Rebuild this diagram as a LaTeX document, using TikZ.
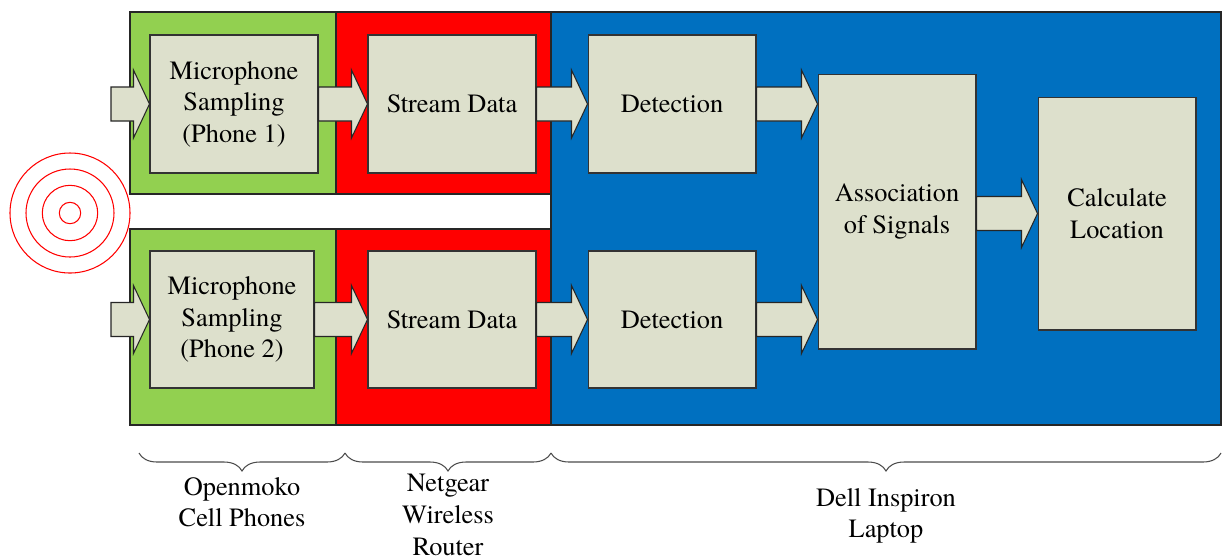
\documentclass[tikz,border=0pt]{standalone}
\usepackage{fontspec}
\setmainfont{TeX Gyre Termes}
\usetikzlibrary{calc}
\usetikzlibrary{decorations.pathreplacing}
\definecolor{phoneGreen}{HTML}{92D050}
\definecolor{routerRed}{HTML}{FF0000}
\definecolor{laptopBlue}{HTML}{0070C0}
\definecolor{boxFill}{HTML}{DDE0CC}
\newcommand{\blockArrow}[2]{%%
  %% The tip lies on the target, level with the start.
  \coordinate (arrowTip) at (#1 -| #2);
  \draw[arrowStyle] ($(#1)+(0,-17)$) -- ($(arrowTip)+(-16,-17)$) -- ($(arrowTip)+(-16,-34)$)
    -- (arrowTip) -- ($(arrowTip)+(-16,34)$) -- ($(arrowTip)+(-16,17)$) -- ($(#1)+(0,17)$) -- cycle;
}
\newcommand{\sectionBrace}[5]{%%
  %% A brace under one section and its label.
  \draw[braceStyle] (#2,453) -- (#3,453);
  \node[labelStyle] (#1) at ({(#2+#3)/2},#4) {#5};
}

\begin{document}
\begin{tikzpicture}[%%
  x=0.02cm,y=-0.02cm,%%
  regionStyle/.style={draw=black!85,line width=0.9pt},%%
  boxStyle/.style={draw=black!80,fill=boxFill,line width=0.6pt,align=center,inner sep=0pt,font=\fontsize{15}{18}\selectfont},%%
  arrowStyle/.style={draw=black!85,fill=boxFill,line width=0.6pt},%%
  waveStyle/.style={draw=red,line width=0.6pt},%%
  braceStyle/.style={draw=black!70,line width=0.6pt,decorate,decoration={brace,mirror,amplitude=0.36cm}},%%
  labelStyle/.style={align=center,inner sep=0pt,anchor=north,font=\fontsize{15}{18}\selectfont}%%
]
\useasboundingbox (0,0) rectangle (1222,559);
%%
%% The three devices.
\draw[regionStyle,fill=laptopBlue] (551,12) rectangle (1221,425);
\draw[regionStyle,fill=routerRed] (336,12) rectangle (551,194);
\draw[regionStyle,fill=routerRed] (336,229) rectangle (551,425);
\draw[regionStyle,fill=phoneGreen] (130,12) rectangle (336,194);
\draw[regionStyle,fill=phoneGreen] (130,229) rectangle (336,425);
%%
%% The sound source.
\coordinate (source) at (70,213);
\foreach \r in {10.7,27.7,44,60}
  \draw[waveStyle] (source) circle[radius=\r];
%%
%% The processing steps.
\node[boxStyle,minimum width=3.36cm,minimum height=2.76cm] (micOne) at (234,104) {Microphone\\Sampling\\(Phone 1)};
\node[boxStyle,minimum width=3.28cm,minimum height=2.74cm] (micTwo) at (232,319.5) {Microphone\\Sampling\\(Phone 2)};
\node[boxStyle,minimum width=3.36cm,minimum height=2.76cm] (streamOne) at (452,104) {Stream Data};
\node[boxStyle,minimum width=3.36cm,minimum height=2.74cm] (streamTwo) at (452,319.5) {Stream Data};
\node[boxStyle,minimum width=3.36cm,minimum height=2.76cm] (detOne) at (672,104) {Detection};
\node[boxStyle,minimum width=3.36cm,minimum height=2.74cm] (detTwo) at (672,319.5) {Detection};
\node[boxStyle,minimum width=3.16cm,minimum height=5.5cm] (assoc) at (897,211.5) {Association\\of Signals};
\node[boxStyle,minimum width=3.16cm,minimum height=4.66cm] (calcLoc) at (1117,213.5) {Calculate\\Location};
%%
%% The data flow.
\coordinate (inOne) at (111,104);
\coordinate (inTwo) at (111,319.5);
\blockArrow{inOne}{micOne.west}
\blockArrow{inTwo}{micTwo.west}
\blockArrow{micOne.east}{streamOne.west}
\blockArrow{micTwo.east}{streamTwo.west}
\blockArrow{streamOne.east}{detOne.west}
\blockArrow{streamTwo.east}{detTwo.west}
\blockArrow{detOne.east}{assoc.west}
\blockArrow{detTwo.east}{assoc.west}
\blockArrow{assoc.east |- calcLoc.west}{calcLoc.west}
%%
%% Which device does what.
\sectionBrace{phones}{139}{345}{477}{Openmoko\\Cell Phones}
\sectionBrace{router}{345}{551}{474}{Netgear\\Wireless\\Router}
\sectionBrace{laptop}{551}{1221}{488}{Dell Inspiron\\Laptop}
\end{tikzpicture}
\end{document}
